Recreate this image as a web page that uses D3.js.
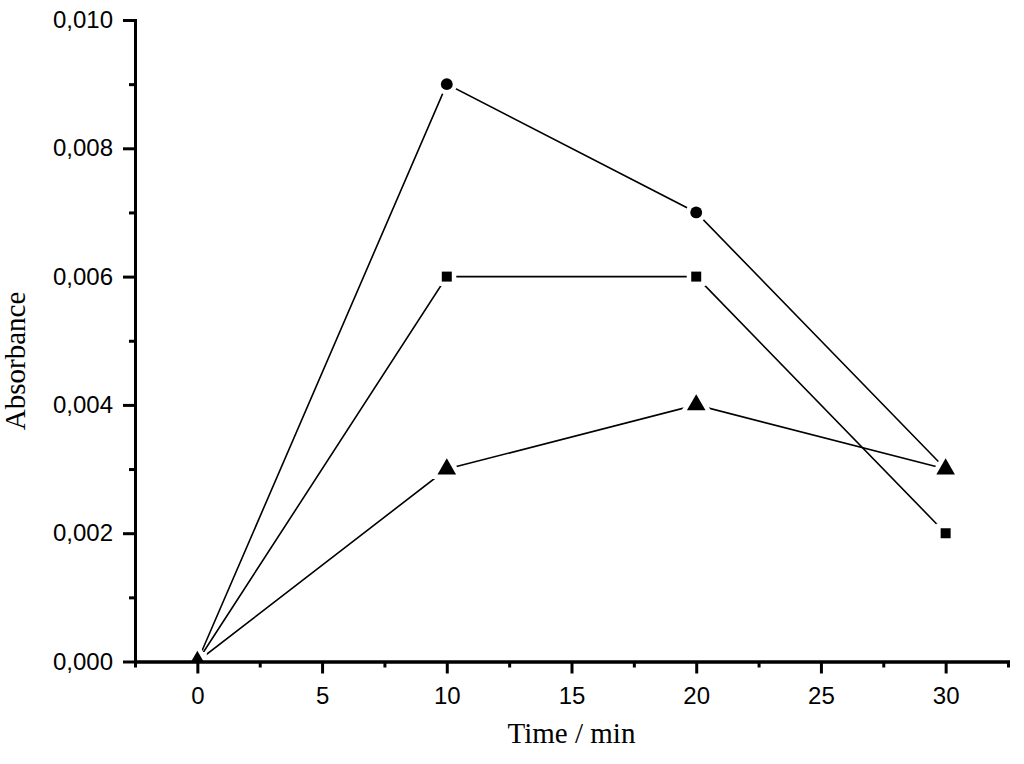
<!DOCTYPE html>
<html lang="en">
  <head>
    <meta charset="UTF-8" />
    <title>Absorbance vs Time</title>
    <script src="https://d3js.org/d3.v7.min.js"></script>
    <style>
      body {
        margin: 0;
        background: white;
      }
      .tick text {
        font-family: "Liberation Sans", Arial, sans-serif;
        font-size: 24px;
        fill: black;
      }
      .axis-title {
        font-family: "Liberation Serif", "Times New Roman", serif;
        font-size: 29px;
        fill: black;
      }
    </style>
  </head>
  <body>
    <div id="chart"></div>
    <script>
      // data
      const times = [0, 10, 20, 30];
      const circleSeries = [0, 0.009, 0.007, 0.003];
      const squareSeries = [0, 0.006, 0.006, 0.002];
      const triangleSeries = [0, 0.003, 0.004, 0.003];

      const xMajorTicks = [0, 5, 10, 15, 20, 25, 30];
      const xMinorTicks = [-2.5, 2.5, 7.5, 12.5, 17.5, 22.5, 27.5, 32.5];
      const yMajorTicks = [0, 0.002, 0.004, 0.006, 0.008, 0.01];
      const yMinorTicks = [0.001, 0.003, 0.005, 0.007, 0.009];

      const W = 1024;
      const H = 764;
      const margin = { top: 20, right: 16, bottom: 102.5, left: 135 };
      const width = W - margin.left - margin.right;
      const height = H - margin.top - margin.bottom;

      const svg = d3
        .select("#chart")
        .append("svg")
        .attr("width", W)
        .attr("height", H);

      const g = svg
        .append("g")
        .attr("transform", `translate(${margin.left},${margin.top})`);

      // data is clipped to the frame, like the original plot
      g.append("clipPath")
        .attr("id", "plot-clip")
        .append("rect")
        .attr("x", 0)
        .attr("y", -10)
        .attr("width", width)
        .attr("height", height + 10);

      const plot = g.append("g").attr("clip-path", "url(#plot-clip)");

      const x = d3.scaleLinear().domain([-2.5, 32.5]).range([0, width]);
      const y = d3.scaleLinear().domain([0, 0.01]).range([height, 0]);

      const locale = d3.formatLocale({
        decimal: ",",
        thousands: ".",
        grouping: [3],
        currency: ["", ""],
      });
      const fmt = locale.format(".3f");

      const series = [
        { values: circleSeries, symbol: d3.symbolCircle, size: 110 },
        { values: squareSeries, symbol: d3.symbolSquare, size: 100 },
        { values: triangleSeries, symbol: d3.symbolTriangle, size: 150 },
      ];

      const line = d3
        .line()
        .x((d) => x(d.t))
        .y((d) => y(d.v));

      series.forEach((s) => {
        const pts = times.map((t, i) => ({ t, v: s.values[i] }));
        plot.append("path")
          .datum(pts)
          .attr("fill", "none")
          .attr("stroke", "black")
          .attr("stroke-width", 1.6)
          .attr("d", line);
      });

      // markers with a white halo so the lines stop short of them
      series.forEach((s) => {
        const pts = times.map((t, i) => ({ t, v: s.values[i] }));
        plot.selectAll(null)
          .data(pts)
          .enter()
          .append("path")
          .attr("transform", (d) => `translate(${x(d.t)},${y(d.v)})`)
          .attr("d", d3.symbol().type(s.symbol).size(s.size))
          .attr("fill", "black")
          .attr("stroke", "white")
          .attr("stroke-width", 9)
          .attr("paint-order", "stroke");
      });

      function styleAxis(sel) {
        sel.select(".domain").attr("stroke-width", 3).attr("stroke-linecap", "square");
        sel.selectAll(".tick line").attr("stroke-width", 3);
      }

      // x axis
      g.append("g")
        .attr("transform", `translate(0,${height})`)
        .call(d3.axisBottom(x).tickValues(xMinorTicks).tickSize(6).tickSizeOuter(0).tickFormat(""))
        .call(styleAxis);
      g.append("g")
        .attr("transform", `translate(0,${height})`)
        .call(d3.axisBottom(x).tickValues(xMajorTicks).tickSize(12).tickSizeOuter(0).tickPadding(13))
        .call(styleAxis);

      // y axis
      g.append("g")
        .call(d3.axisLeft(y).tickValues(yMinorTicks).tickSize(6).tickSizeOuter(0).tickFormat(""))
        .call(styleAxis);
      g.append("g")
        .call(d3.axisLeft(y).tickValues(yMajorTicks).tickSize(12).tickSizeOuter(0).tickPadding(10).tickFormat(fmt))
        .call(styleAxis);

      svg.append("text")
        .attr("class", "axis-title")
        .attr("x", margin.left + width / 2)
        .attr("y", 743)
        .attr("text-anchor", "middle")
        .text("Time / min");

      svg.append("text")
        .attr("class", "axis-title")
        .attr("transform", "translate(25,361) rotate(-90)")
        .attr("text-anchor", "middle")
        .text("Absorbance");
    </script>
  </body>
</html>
